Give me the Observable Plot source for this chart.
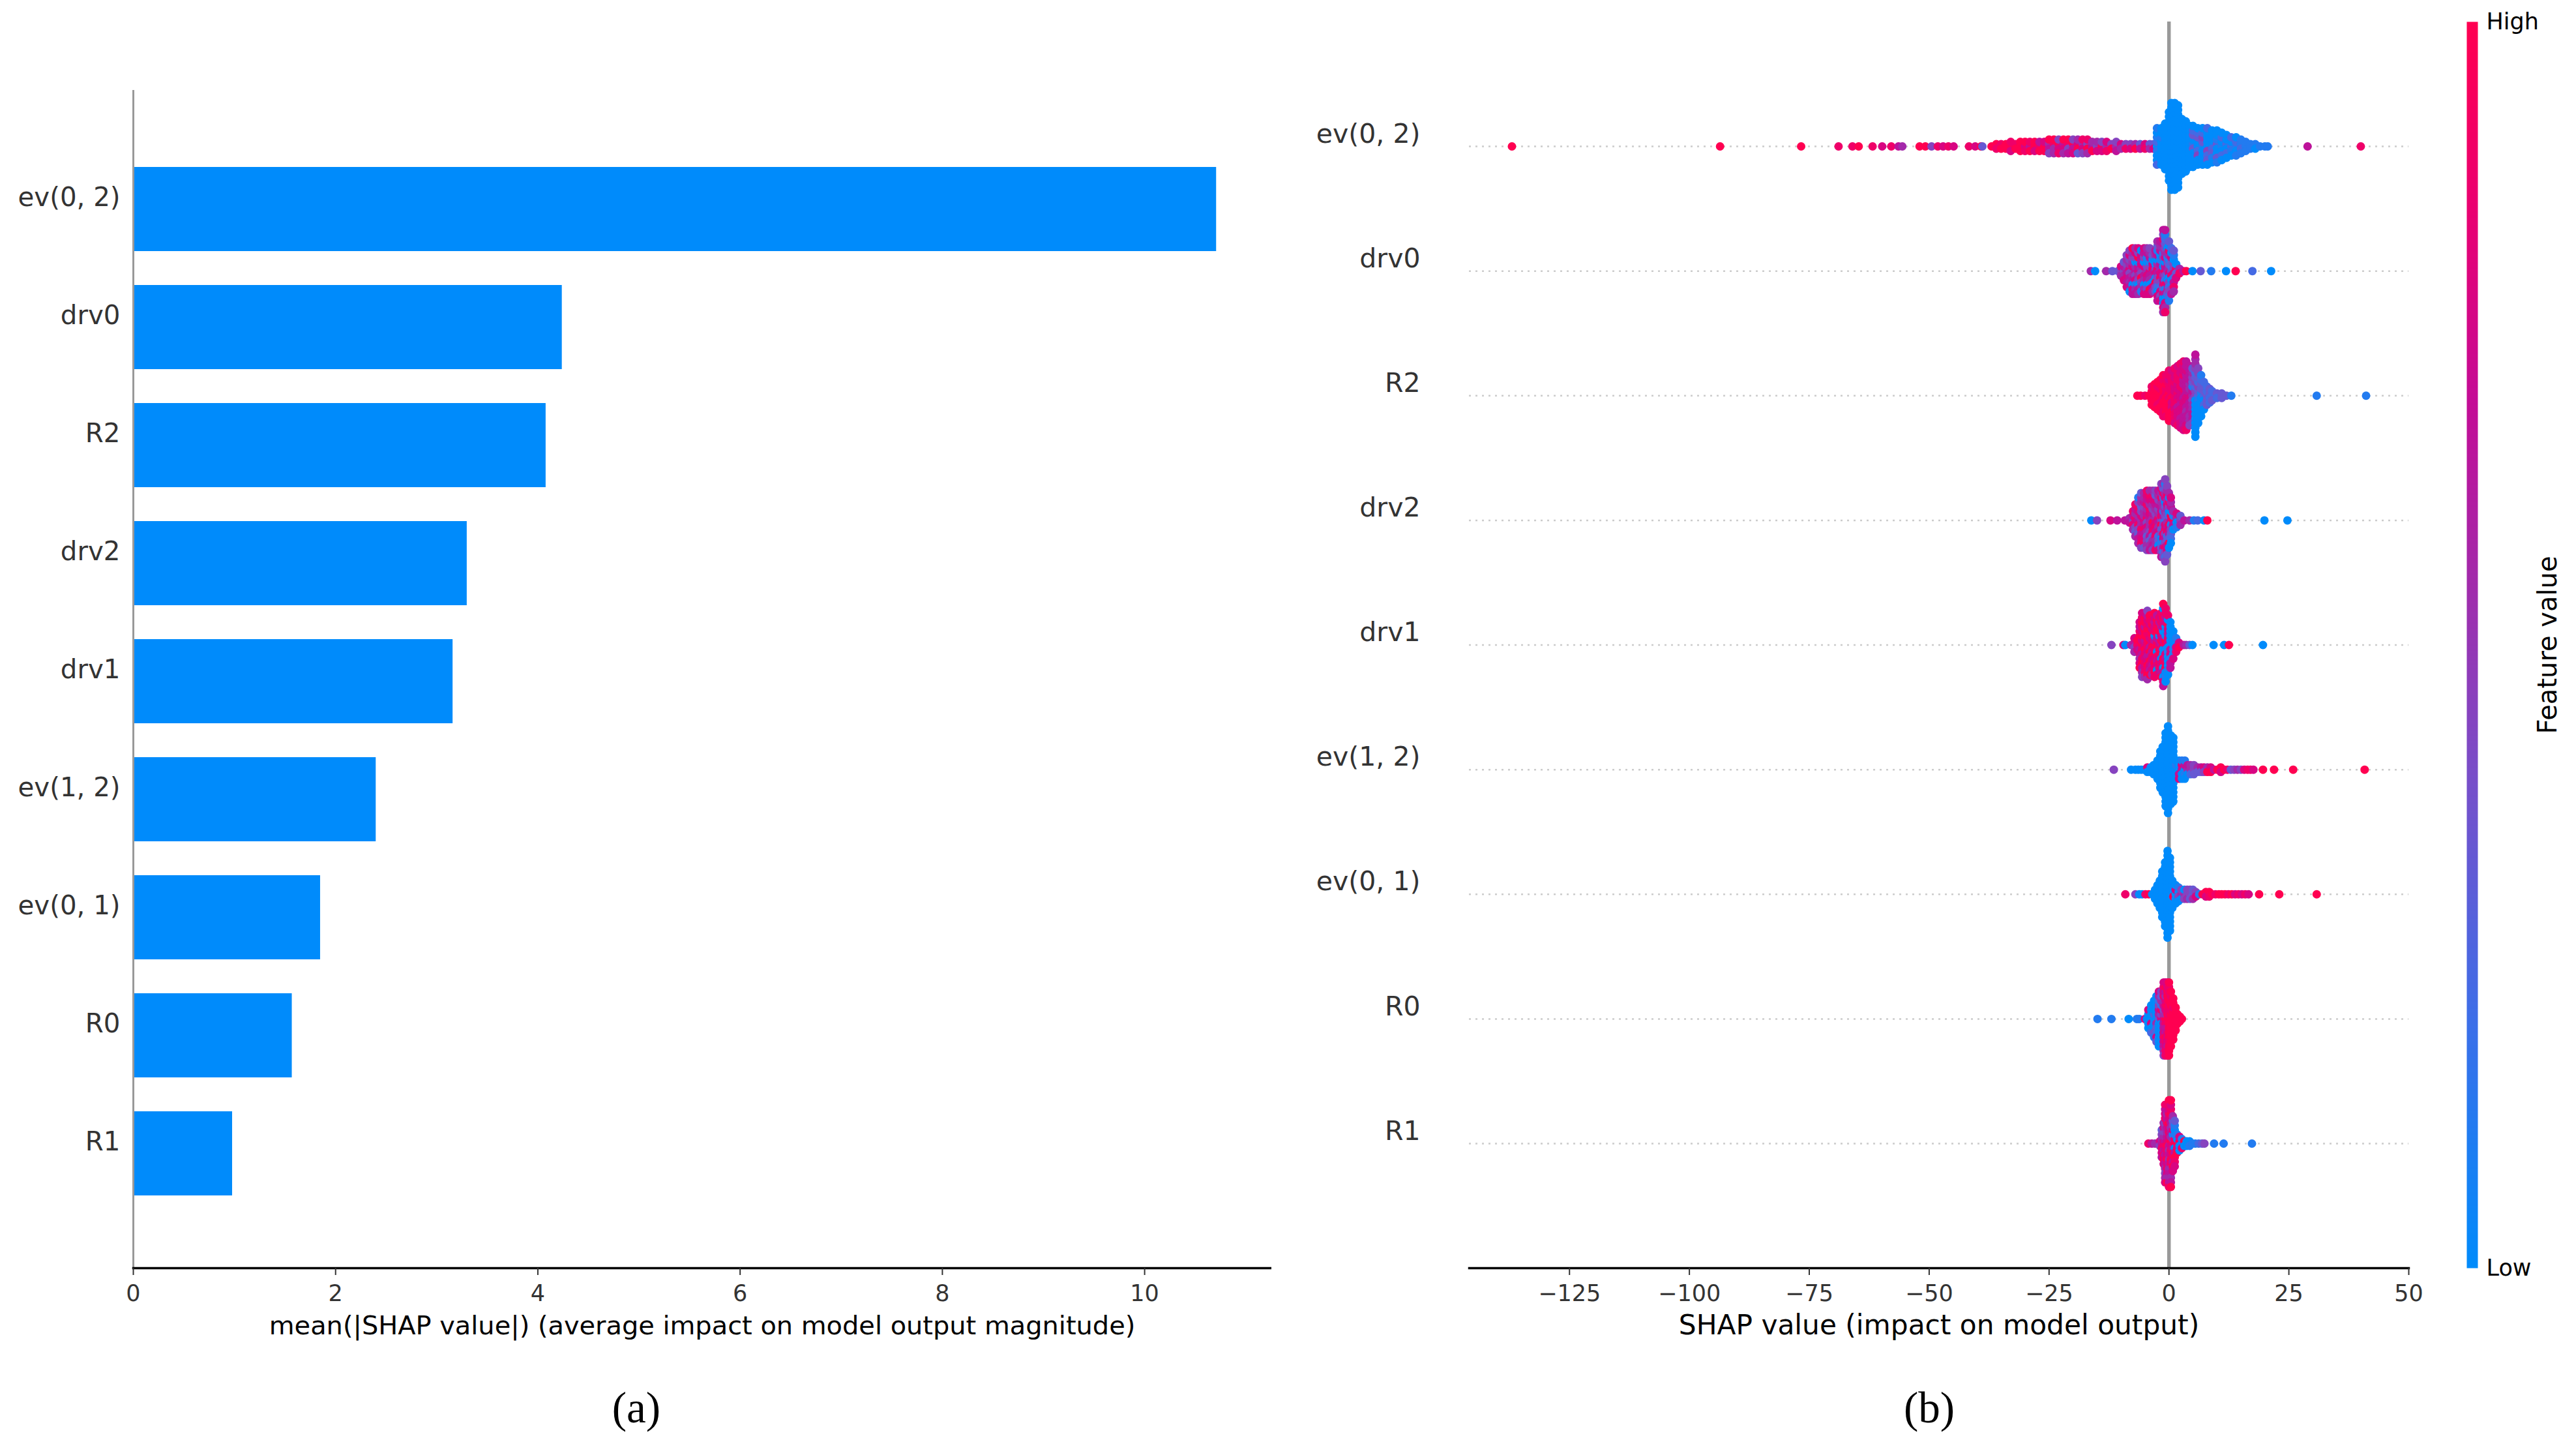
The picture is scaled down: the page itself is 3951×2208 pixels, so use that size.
<!doctype html>
<html>
<head>
<meta charset="utf-8">
<script src="https://cdn.jsdelivr.net/npm/d3@7"></script>
<script src="https://cdn.jsdelivr.net/npm/@observablehq/plot@0.6"></script>
<style>
html,body{margin:0;padding:0;background:#fff;}
#stage{position:relative;width:3951px;height:2208px;overflow:hidden;font-family:"DejaVu Sans";}
#stage svg{position:absolute;top:0;background:transparent;}
</style>
</head>
<body>
<div id="stage"></div>
<script>
const featureNames = ["ev(0, 2)","drv0","R2","drv2","drv1","ev(1, 2)","ev(0, 1)","R0","R1"];
const meanAbsShap = [10.71,4.24,4.08,3.30,3.16,2.40,1.85,1.57,0.98];
const barTicks = [0,2,4,6,8,10];
const shapTicks = [-125,-100,-75,-50,-25,0,25,50];

// Each column: [SHAP value, feature-value code per stacked dot, 0 = low ... 9 = high]
const ev02Columns = [[-137,"9"],[-93.6,"9"],[-76.7,"9"],[-68.9,"8"],[-66,"8"],[-64.7,"9"],[-61.8,"8"],[-59.8,"7"],[-57.9,"8"],[-56.4,"6"],[-55.6,"5"],[-52,"9"],[-50.8,"9"],[-49.5,"4"],[-48.2,"8"],[-47.1,"7"],[-46,"8"],[-44.9,"7"],[-41.7,"8"],[-40.4,"7"],[-39.2,"9"],[-38.9,"3"],
[-37,"9"],[-36,"98"],[-35,"89"],[-34,"99"],[-33,"978"],[-32,"89"],[-31,"999"],[-30,"789"],[-29,"698"],[-28,"979"],[-27,"896"],[-26,"997"],[-25,"5694"],[-24,"8595"],[-23,"9748"],[-22,"6795"],[-21,"8496"],[-20,"9647"],[-19,"7953"],[-18,"5784"],[-17,"4985"],[-16,"695"],[-15,"475"],[-14,"974"],[-13,"587"],[-12,"49"],[-11,"564"],[-10,"75"],[-9,"48"],[-8,"47"],[-7,"59"],[-6,"36"],[-5,"78"],[-4,"35"],[-3.2,"37"],
[-2.5,"012010021"],[-1.6,"000010000"],[-0.8,"00000000000"],[0,"0000000000000000"],[0.5,"00000000000000000000"],[1.2,"00000000000000000000"],[1.9,"0000000000000000000"],[2.7,"0000000000000"],[3.5,"000000000000"],[4.3,"0000000000"],[5,"1300302000"],[6,"020430200"],[7,"103040200"],[8,"040203002"],[9,"02030100"],[10,"30100301"],[11,"1002200"],[12,"200200"],[13,"21002"],[14,"10210"],[15,"1211"],[16,"111"],[17,"11"],[18,"10"],[19,"1"],[20,"1"],[20.6,"1"],[28.9,"6"],[40,"8"]];

const drv0Columns = [[-16.3,"5"],[-15.4,"0"],[-13.1,"5"],[-11.8,"3"],[-10.6,"3"],[-10,"457"],[-9.4,"45673"],[-8.8,"56475647"],[-8.2,"7456457640"],[-7.6,"45765047569"],[-7,"64570145765"],[-6.4,"75640096457"],[-5.8,"5479647501"],[-5.2,"46750045677"],[-4.6,"57460014675"],[-4,"76451069574"],[-3.4,"9675003745"],[-2.8,"4701095463"],[-2.4,"86540462103756"],[-1.8,"57681402675467"],[-1.2,"7506174327506187456"],[-0.8,"8462087156403725186"],[-0.3,"52604715530"],[0,"57301452840231"],[0.5,"48203174062"],[1,"4742061835"],[1.5,"8307"],[2.2,"58"],[3,"6"],[3.6,"9"],[4.9,"0"],[6.6,"3"],[8.8,"1"],[11.9,"0"],[13.9,"9"],[17.4,"2"],[21.3,"0"]];

const r2Columns = [[-6.6,"9"],[-5.9,"9"],[-5,"8"],[-4.2,"9"],[-3.6,"99998"],[-3,"999999"],[-2.4,"9998899"],[-1.8,"99889999"],[-1.2,"9899998898"],[-0.6,"8989998988"],[0,"988989798989"],[0.6,"898787898979"],[1.2,"8878778878778"],[1.8,"87787687878778"],[2.4,"777687878677778"],[3,"7687676786767687"],[3.6,"6767666566766768"],[4.3,"67565666656564"],[4.9,"5465153646543"],[5.5,"4040204030204050506"],[6.1,"2130402030404"],[6.7,"1030302010"],[7.3,"2032302"],[7.9,"33232"],[8.5,"3232"],[9,"232"],[10,"32"],[11,"33"],[12,"3"],[13,"1"],[30.8,"1"],[41.1,"1"]];

const drv2Columns = [[-16.2,"0"],[-15,"4"],[-12.2,"7"],[-10.8,"6"],[-9.2,"6"],[-8.2,"56"],[-7.5,"48658"],[-7,"87546385"],[-6.4,"68547386451"],[-5.8,"5578463758543"],[-5.2,"7658564768535"],[-4.6,"84675583647584"],[-4,"65758456738556"],[-3.4,"59674853758654"],[-2.8,"57485668753548"],[-2.2,"86554762435067"],[-1.6,"49837460518354764"],[-1.2,"34632857513682345"],[-0.8,"2748543604785432144"],[-0.4,"3546587253865743"],[0,"5927064389105"],[0.4,"71940362507"],[0.9,"96105"],[1.6,"5071"],[2.4,"453"],[3.2,"6"],[4.3,"5"],[5.2,"1"],[6,"2"],[7.3,"0"],[8,"9"],[19.9,"0"],[24.7,"0"]];

const drv1Columns = [[-12,"4"],[-9.5,"7"],[-9.1,"0"],[-7.9,"5"],[-7.2,"6475"],[-6.6,"879"],[-6.1,"86979587697"],[-5.6,"987698798695847"],[-5,"796897986798957"],[-4.5,"8897869789786945"],[-4,"96798699778699"],[-3.5,"79869877968795"],[-3,"986907897869789"],[-2.5,"89609896879068"],[-2,"7968079898678"],[-1.6,"689970976886798"],[-1.2,"9070690870769087069"],[-0.7,"80970608097061808"],[-0.2,"70816070900180"],[0.3,"06070106060"],[0.9,"0101070"],[1.5,"0718"],[2.1,"79"],[3.1,"6"],[3.6,"5"],[4.3,"3"],[4.9,"0"],[9.3,"0"],[11.5,"0"],[12.5,"9"],[19.6,"0"]];

const ev12Columns = [[-11.5,"4"],[-7.9,"0"],[-7,"0"],[-6.4,"0"],[-5.8,"0"],[-5.2,"0"],[-4.5,"70"],[-3.8,"00"],[-3.2,"000"],[-2.4,"00000"],[-1.8,"000000000"],[-1.3,"00000000000"],[-0.7,"00000000000000000"],[-0.2,"00000000000000000000"],[0.4,"0000000000000000"],[0.9,"000000000000000"],[1.5,"00100"],[2.1,"06070"],[2.7,"60701"],[3.3,"01601"],[3.9,"506"],[4.5,"525"],[5.2,"434"],[6,"53"],[6.7,"63"],[7.3,"74"],[8,"59"],[8.7,"79"],[9.4,"6"],[10.1,"9"],[10.8,"97"],[11.5,"9"],[12.2,"8"],[12.9,"3"],[13.6,"4"],[14.3,"5"],[15,"4"],[15.7,"7"],[16.4,"8"],[17,"8"],[17.6,"7"],[19.6,"9"],[21.9,"9"],[25.9,"9"],[40.8,"9"]];

const ev01Columns = [[-9.1,"8"],[-7,"4"],[-6.2,"0"],[-5.6,"0"],[-4.9,"8"],[-4.2,"9"],[-3.5,"0"],[-2.9,"000"],[-2.4,"00000"],[-1.9,"0000000"],[-1.4,"00000000000"],[-0.8,"000000000000000"],[-0.3,"00000000000000000000"],[0.2,"00000000000000000"],[0.7,"0000000"],[0.9,"09"],[1.4,"00700"],[2,"0410"],[2.6,"504"],[3.2,"540"],[3.8,"454"],[4.4,"434"],[5,"353"],[5.6,"47"],[6.3,"1"],[7,"9"],[7.7,"97"],[8.4,"98"],[9,"9"],[9.7,"8"],[10.4,"9"],[11,"9"],[11.7,"9"],[12.4,"8"],[13.1,"9"],[13.8,"7"],[14.5,"8"],[15.2,"7"],[15.9,"8"],[16.6,"7"],[18.8,"9"],[23,"9"],[30.8,"9"]];

const r0Columns = [[-14.9,"1"],[-12,"1"],[-8.4,"0"],[-6.7,"1"],[-6.2,"1"],[-5,"7"],[-4.6,"0"],[-4.3,"00007"],[-3.7,"0700020"],[-3.1,"002003010"],[-2.6,"05030207030"],[-2.1,"3050604020507"],[-1.6,"7040802050304"],[-1.1,"76564768578675847"],[-0.7,"98567689785768987"],[-0.3,"98968797879698787"],[0,"99898989989989899"],[0.4,"9999899999899"],[0.9,"9999899999"],[1.4,"999999"],[1.8,"999"],[2.3,"99"],[2.7,"9"]];

const r1Columns = [[-4.3,"8"],[-3.6,"6"],[-2.9,"5"],[-2.4,"5"],[-1.9,"74"],[-1.5,"6857463"],[-1.1,"7856487957"],[-0.8,"685746574685746587"],[-0.4,"796857698768576589"],[0,"86758675967586758698"],[0.4,"97586759687596857699"],[0.8,"8659187649375"],[1.2,"90861908173"],[1.7,"98091"],[2.2,"9070"],[2.7,"081"],[3.2,"90"],[3.7,"00"],[4.3,"01"],[4.9,"1"],[5.5,"1"],[6.2,"2"],[6.9,"3"],[7.4,"4"],[9.4,"1"],[11.4,"1"],[17.3,"1"]];

const shapColumns = [ev02Columns,drv0Columns,r2Columns,drv2Columns,drv1Columns,ev12Columns,ev01Columns,r0Columns,r1Columns];
const layerStep = 0.0366;
const stackLayer = (k,n) => n%2 ? (k%2 ? (k+1)/2 : -k/2) : (k%2 ? (k+1)/2-0.5 : -(k/2)-0.5);
const shapDots = shapColumns.flatMap((columns,row)=>columns.flatMap(([x,codes])=>[...codes].map((c,k)=>({
  x, y: row + stackLayer(k,codes.length)*layerStep, value:+c/9
}))));

const colorScale = {type:"linear", domain:[0,.2,.4,.55,.7,.85,1], range:["#008bfb","#3d6ee8","#7a4dc8","#a22aab","#c50b95","#ea0071","#ff0051"], interpolate:"rgb"};
const font = {fontFamily:"DejaVu Sans", background:"transparent"};
const stage = document.getElementById("stage");
function place(svg,left){ svg.style.left = left+"px"; stage.appendChild(svg); }

// (a) bar panel
const barPlot = Plot.plot({
  width:1950, height:2208, marginLeft:204, marginRight:1, marginTop:139, marginBottom:264,
  style:font,
  x:{domain:[0,11.25], axis:null},
  y:{domain:featureNames, range:[200.4,1888.6], padding:.29, align:.5, axis:null},
  marks:[
    Plot.barX(featureNames,{x:(d,i)=>meanAbsShap[i], y:d=>d, fill:"#008bfb"}),
    Plot.frame({anchor:"left",stroke:"#999",strokeWidth:3}),
    Plot.frame({anchor:"bottom",stroke:"#000",strokeWidth:3.5}),
    Plot.axisX({ticks:barTicks,tickSize:11,tickPadding:15,fontSize:35,stroke:"#333",strokeWidth:2,fill:"#333",label:null}),
    Plot.axisY({tickSize:0,tickPadding:20,fontSize:40.3,dy:-18,fill:"#333",label:null}),
    Plot.text(["mean(|SHAP value|) (average impact on model output magnitude)"],{frameAnchor:"bottom",dy:101,fontSize:39.9,fill:"#000"}),
    Plot.text(["(a)"],{frameAnchor:"bottom",dy:236,dx:-101,fontSize:67,fontFamily:"Liberation Serif",fill:"#000"})
  ]
});
place(barPlot,0);

// (b) beeswarm panel
const swarmPlot = Plot.plot({
  width:1850, height:2208, marginLeft:303, marginRight:106, marginTop:33, marginBottom:264,
  style:font,
  x:{domain:[-145.9,50], axis:null},
  y:{domain:[0,8], range:[224,1753], axis:null},
  color:colorScale,
  marks:[
    Plot.ruleY(featureNames.map((d,i)=>i),{stroke:"#ccc",strokeWidth:2.5,strokeDasharray:"3 7"}),
    Plot.ruleX([0],{stroke:"#999",strokeWidth:5.5}),
    Plot.dot(shapDots,{x:"x",y:"y",r:6.5,fill:"value",stroke:null}),
    Plot.frame({anchor:"bottom",stroke:"#000",strokeWidth:3.5}),
    Plot.axisX({ticks:shapTicks,tickSize:11,tickPadding:15,fontSize:35,stroke:"#333",strokeWidth:2,fill:"#333",label:null}),
    Plot.axisY({ticks:featureNames.map((d,i)=>i),tickFormat:i=>featureNames[i],tickSize:0,tickPadding:75,fontSize:41,dy:-19,fill:"#333",label:null}),
    Plot.text(["SHAP value (impact on model output)"],{frameAnchor:"bottom",dy:101,fontSize:42.3,fill:"#000"}),
    Plot.text(["(b)"],{frameAnchor:"bottom",dy:236,dx:-15,fontSize:67,fontFamily:"Liberation Serif",fill:"#000"})
  ]
});
place(swarmPlot,1950);

// colour bar
const barLabels = [{t:"High",v:1},{t:"Low",v:0}];
const colorbarPlot = Plot.plot({
  width:251, height:2208, marginLeft:83, marginRight:151, marginTop:33, marginBottom:264,
  style:font,
  x:{domain:[0,1],axis:null},
  y:{domain:[0,1],axis:null},
  color:colorScale,
  marks:[
    Plot.raster({fill:(x,y)=>y,x1:0,x2:1,y1:0,y2:1,width:1,height:512,imageRendering:"auto"}),
    Plot.text(barLabels,{x:()=>1,y:"v",text:"t",dx:13,textAnchor:"start",fontSize:35,fill:"#000"}),
    Plot.text(["Feature value"],{frameAnchor:"middle",dx:116,rotate:-90,fontSize:40,fill:"#000"})
  ]
});
place(colorbarPlot,3700);
</script>
</body>
</html>
